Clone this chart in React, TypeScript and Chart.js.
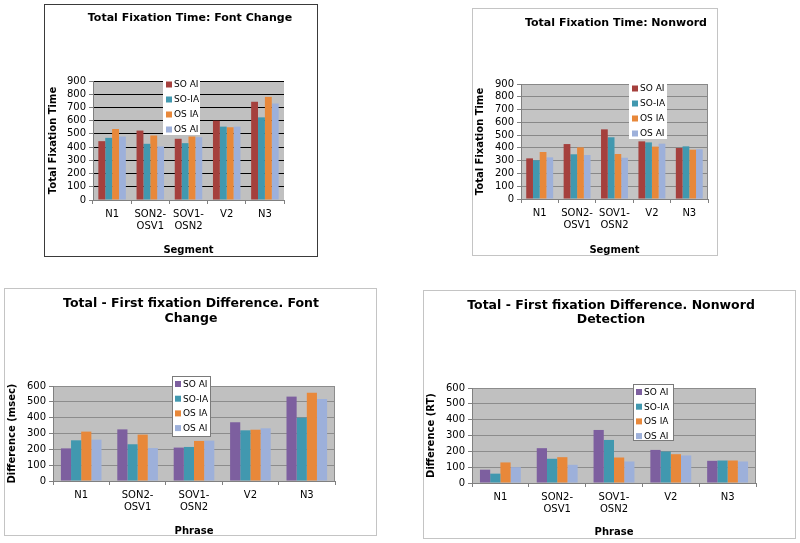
import React, { useEffect, useRef } from "react";
import { Chart, registerables } from "chart.js";
Chart.register(...registerables);

// ---------- data ----------
const categories = [["N1"], ["SON2-", "OSV1"], ["SOV1-", "OSN2"], ["V2"], ["N3"]];
const seriesNames = ["SO AI", "SO-IA", "OS IA", "OS AI"];

const fcTotalSOAI = [445, 525, 463, 600, 743];
const fcTotalSOIA = [470, 425, 430, 555, 625];
const fcTotalOSIA = [537, 488, 480, 550, 780];
const fcTotalOSAI = [480, 405, 475, 555, 730];

const nwTotalSOAI = [318, 430, 545, 451, 399];
const nwTotalSOIA = [303, 350, 483, 443, 412];
const nwTotalOSIA = [368, 404, 352, 410, 386];
const nwTotalOSAI = [326, 344, 323, 433, 389];

const fcDiffSOAI = [206, 326, 211, 371, 533];
const fcDiffSOIA = [257, 232, 215, 320, 400];
const fcDiffOSIA = [312, 293, 253, 324, 558];
const fcDiffOSAI = [261, 208, 255, 333, 518];

const nwDiffSOAI = [84, 220, 335, 209, 140];
const nwDiffSOIA = [59, 153, 272, 199, 142];
const nwDiffOSIA = [130, 163, 161, 182, 142];
const nwDiffOSAI = [100, 115, 136, 174, 136];

const totalMax = 900;
const diffMax = 600;
const tickStep = 100;

const FONT = '"DejaVu Sans", Verdana, sans-serif';
const RED = "#A5403D";
const PURPLE = "#7D5F9F";
const TEAL = "#4198AF";
const ORANGE = "#E8883A";
const LAVENDER = "#9DB0DA";

type Panel = {
  left: number; top: number; width: number; height: number;
  frameColor: string;
  title: string[]; titleX: number; titleY: number; titleStep: number; titleSize: number;
  yTitle: string; xTitle: string;
  pad: { top: number; right: number; left: number };
  yWidth: number; xHeight: number; xTitlePadBottom: number;
  max: number;
  series: number[][];
  firstColor: string;
  grid: string; plotBg: string; plotBorder: string | null;
  legend: { dx: number; dy: number; w: number; h: number; first: number; step: number; border: string | null };
};

const panels: Panel[] = [
  {
    left: 44, top: 4, width: 274, height: 253, frameColor: "#3a3a3a",
    title: ["Total Fixation Time: Font Change"], titleX: 146, titleY: 14, titleStep: 14, titleSize: 11,
    yTitle: "Total Fixation Time", xTitle: "Segment",
    pad: { top: 77, right: 34, left: 3 }, yWidth: 46, xHeight: 57, xTitlePadBottom: 2,
    max: totalMax, series: [fcTotalSOAI, fcTotalSOIA, fcTotalOSIA, fcTotalOSAI], firstColor: RED,
    grid: "#000000", plotBg: "#C0C0C0", plotBorder: null,
    legend: { dx: 70, dy: -3, w: 37, h: 57, first: 6.5, step: 15, border: null },
  },
  {
    left: 472, top: 8, width: 246, height: 248, frameColor: "#C4C4C4",
    title: ["Total Fixation Time: Nonword"], titleX: 144, titleY: 15, titleStep: 14, titleSize: 11,
    yTitle: "Total Fixation Time", xTitle: "Segment",
    pad: { top: 76, right: 10, left: 2 }, yWidth: 47, xHeight: 57, xTitlePadBottom: 1,
    max: totalMax, series: [nwTotalSOAI, nwTotalSOIA, nwTotalOSIA, nwTotalOSAI], firstColor: RED,
    grid: "#888888", plotBg: "#C4C4C4", plotBorder: "#888888",
    legend: { dx: 108, dy: -2, w: 38, h: 57, first: 6.5, step: 15, border: null },
  },
  {
    left: 4, top: 288, width: 373, height: 248, frameColor: "#C4C4C4",
    title: ["Total - First fixation Difference. Font", "Change"], titleX: 187, titleY: 16, titleStep: 15, titleSize: 12.5,
    yTitle: "Difference (msec)", xTitle: "Phrase",
    pad: { top: 98, right: 42, left: 2 }, yWidth: 47, xHeight: 55, xTitlePadBottom: 0,
    max: diffMax, series: [fcDiffSOAI, fcDiffSOIA, fcDiffOSIA, fcDiffOSAI], firstColor: PURPLE,
    grid: "#8C8C8C", plotBg: "#C0C0C0", plotBorder: "#8C8C8C",
    legend: { dx: 119, dy: -10, w: 39, h: 61, first: 8, step: 14.7, border: "#7a7a7a" },
  },
  {
    left: 423, top: 290, width: 373, height: 249, frameColor: "#C4C4C4",
    title: ["Total - First fixation Difference. Nonword", "Detection"], titleX: 188, titleY: 16, titleStep: 14, titleSize: 12.5,
    yTitle: "Difference (RT)", xTitle: "Phrase",
    pad: { top: 98, right: 40, left: 2 }, yWidth: 47, xHeight: 56, xTitlePadBottom: 2,
    max: diffMax, series: [nwDiffSOAI, nwDiffSOIA, nwDiffOSIA, nwDiffOSAI], firstColor: PURPLE,
    grid: "#8C8C8C", plotBg: "#C0C0C0", plotBorder: "#8C8C8C",
    legend: { dx: 161, dy: -4, w: 41, h: 57, first: 8, step: 14.7, border: "#7a7a7a" },
  },
];

function PanelChart({ p }: { p: Panel }) {
  const ref = useRef<HTMLCanvasElement | null>(null);
  useEffect(() => {
    if (!ref.current) return;
    const colors = [p.firstColor, TEAL, ORANGE, LAVENDER];
    const decor = {
      id: "decor",
      beforeDraw(chart: any) {
        const { ctx, chartArea: a, width, height } = chart;
        ctx.save();
        ctx.fillStyle = "#ffffff";
        ctx.fillRect(0, 0, width, height);
        ctx.strokeStyle = p.frameColor;
        ctx.lineWidth = 1;
        ctx.strokeRect(0.5, 0.5, width - 1, height - 1);
        ctx.fillStyle = p.plotBg;
        ctx.fillRect(a.left, a.top, a.right - a.left, a.bottom - a.top);
        if (p.plotBorder) {
          ctx.strokeStyle = p.plotBorder;
          ctx.strokeRect(a.left + 0.5, a.top + 0.5, a.right - a.left - 1, a.bottom - a.top);
        }
        ctx.fillStyle = "#000";
        ctx.font = `bold ${p.titleSize}px ${FONT}`;
        ctx.textAlign = "center";
        ctx.textBaseline = "middle";
        p.title.forEach((t, i) => ctx.fillText(t, p.titleX, p.titleY + i * p.titleStep));
        ctx.restore();
      },
      afterDraw(chart: any) {
        const { ctx, chartArea: a } = chart;
        const L = p.legend;
        const x = a.left + L.dx;
        const y = a.top + L.dy;
        ctx.save();
        ctx.fillStyle = "#ffffff";
        ctx.fillRect(x, y, L.w, L.h);
        if (L.border) {
          ctx.strokeStyle = L.border;
          ctx.lineWidth = 1;
          ctx.strokeRect(x + 0.5, y + 0.5, L.w - 1, L.h - 1);
        }
        ctx.font = `9px ${FONT}`;
        ctx.textAlign = "left";
        ctx.textBaseline = "middle";
        chart.data.datasets.forEach((ds: any, i: number) => {
          const cy = y + L.first + i * L.step;
          ctx.fillStyle = ds.backgroundColor;
          ctx.fillRect(x + 3, cy - 3, 6, 6);
          ctx.fillStyle = "#000";
          ctx.fillText(ds.label, x + 11, cy + 0.5);
        });
        ctx.restore();
      },
    };
    const chart = new Chart(ref.current, {
      type: "bar",
      data: {
        labels: categories,
        datasets: p.series.map((s, i) => ({
          label: seriesNames[i],
          data: s,
          backgroundColor: colors[i],
          borderWidth: 0,
          barPercentage: 1,
          categoryPercentage: 0.72,
        })),
      },
      options: {
        animation: false,
        responsive: false,
        events: [],
        layout: { padding: { top: p.pad.top, right: p.pad.right, left: p.pad.left, bottom: 0 } },
        plugins: { legend: { display: false }, title: { display: false }, tooltip: { enabled: false } },
        scales: {
          x: {
            ticks: { font: { family: FONT, size: 10 }, color: "#000", padding: 4, maxRotation: 0, autoSkip: false },
            grid: { drawOnChartArea: false, drawTicks: true, tickLength: 4, color: "#808080", offset: true },
            border: { color: "#808080" },
            title: {
              display: true, text: p.xTitle, color: "#000",
              font: { family: FONT, size: 10, weight: "bold", lineHeight: 1 },
              padding: { top: 0, bottom: p.xTitlePadBottom },
            },
            afterFit: (s: any) => { s.height = p.xHeight; },
          },
          y: {
            min: 0, max: p.max,
            ticks: { stepSize: tickStep, autoSkip: false, font: { family: FONT, size: 10 }, color: "#000", padding: 3 },
            grid: { color: p.grid, tickColor: "#808080", tickLength: 4, drawTicks: true },
            border: { color: "#808080" },
            title: {
              display: true, text: p.yTitle, color: "#000",
              font: { family: FONT, size: 10, weight: "bold" },
              padding: { top: 0, bottom: 0 },
            },
            afterFit: (s: any) => { s.width = p.yWidth; },
          },
        },
      } as any,
      plugins: [decor],
    });
    return () => chart.destroy();
  }, [p]);
  return (
    <canvas
      ref={ref}
      width={p.width}
      height={p.height}
      style={{ position: "absolute", left: p.left, top: p.top, width: p.width, height: p.height }}
    />
  );
}

export default function App() {
  return (
    <div style={{ position: "absolute", left: 0, top: 0, width: 800, height: 543, background: "#fff" }}>
      {panels.map((p, i) => (
        <PanelChart key={i} p={p} />
      ))}
    </div>
  );
}
